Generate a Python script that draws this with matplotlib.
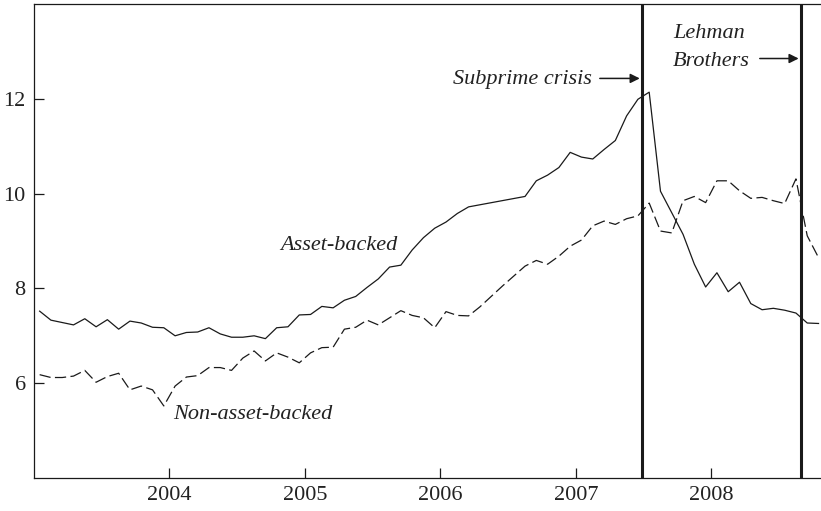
import numpy as np
import matplotlib
matplotlib.use("Agg")
import matplotlib.pyplot as plt

# month index counted from Jan 2003 (0 = Jan 2003)
asset_months = list(range(0, 39)) + list(range(43, 56)) + list(range(57, 70))
asset_backed = [7.52, 7.33, 7.28, 7.23, 7.36, 7.19, 7.34, 7.14, 7.31, 7.27,
                7.18, 7.17, 7.00, 7.07, 7.08, 7.17, 7.04, 6.97, 6.97, 7.00,
                6.94, 7.17, 7.19, 7.44, 7.45, 7.62, 7.59, 7.75, 7.83, 8.02,
                8.20, 8.45, 8.49, 8.81, 9.07, 9.27, 9.40, 9.58, 9.72,
                9.94, 10.27, 10.39, 10.55, 10.87, 10.77, 10.73, 10.93, 11.12,
                11.64, 11.99, 12.14, 10.05,
                9.14, 8.51, 8.03, 8.33, 7.93, 8.13, 7.68, 7.55, 7.58, 7.54,
                7.48, 7.27, 7.26]

non_asset_months = list(range(0, 70))
non_asset_backed = [6.18, 6.12, 6.12, 6.15, 6.27, 6.02, 6.14, 6.21, 5.86, 5.94,
                    5.86, 5.52, 5.94, 6.13, 6.16, 6.33, 6.33, 6.27, 6.53, 6.68,
                    6.47, 6.64, 6.55, 6.43, 6.64, 6.75, 6.76, 7.14, 7.18, 7.33,
                    7.23, 7.38, 7.53, 7.43, 7.38, 7.17, 7.51, 7.43, 7.42, 7.61,
                    7.83, 8.05, 8.26, 8.47, 8.59, 8.51, 8.68, 8.89, 9.02, 9.32,
                    9.42, 9.35, 9.47, 9.53, 9.80, 9.21, 9.17, 9.85, 9.94, 9.81,
                    10.27, 10.27, 10.06, 9.90, 9.92, 9.85, 9.79, 10.31, 9.11, 8.65]

year_ticks = [2004, 2005, 2006, 2007, 2008]
value_ticks = [6, 8, 10, 12]
subprime_date = 2007.487
lehman_date = 2008.66

plt.rcParams['font.family'] = ['Liberation Serif', 'DejaVu Serif']
ink = '#1a1a1a'

def to_year(m):
    return 2003 + (np.asarray(m) + 0.5) / 12.0

fig = plt.figure(figsize=(8.21, 5.11), dpi=100)
ax = fig.add_axes([34/821, 33/511, 787/821, 474/511])

ax.plot(to_year(asset_months), asset_backed, '-', color=ink, lw=0.9)
l2, = ax.plot(to_year(non_asset_months), non_asset_backed, '--', color=ink, lw=0.9)
l2.set_dashes((9, 3.5))

ax.axvline(subprime_date, color=ink, lw=2.2)
ax.axvline(lehman_date, color=ink, lw=2.2)

ax.set_xlim(2003.0, 2008.81)
ax.set_ylim(4, 14)
ax.set_xticks(year_ticks)
ax.set_xticklabels([str(y) for y in year_ticks])
ax.set_yticks(value_ticks)
ax.tick_params(direction='in', length=7, width=0.9, color=ink,
               labelsize=16, labelcolor='#222222', pad=6)
for s in ['left', 'bottom', 'top']:
    ax.spines[s].set_linewidth(0.9)
    ax.spines[s].set_color(ink)
ax.spines['right'].set_visible(False)

tkw = dict(fontsize=16, style='italic', color='#222222', va='center')
ax.text(2007.118, 12.40, 'Subprime crisis', ha='right', **tkw)
ax.annotate('', xy=(subprime_date - 0.015, 12.43), xytext=(2007.177, 12.43),
            arrowprops=dict(arrowstyle='-|>', color=ink, lw=1.1,
                            mutation_scale=14, shrinkA=0, shrinkB=0))
ax.text(2007.716, 13.38, 'Lehman', ha='left', **tkw)
ax.text(2007.716, 12.79, 'Brothers', ha='left', **tkw)
ax.annotate('', xy=(lehman_date - 0.015, 12.85), xytext=(2008.358, 12.85),
            arrowprops=dict(arrowstyle='-|>', color=ink, lw=1.1,
                            mutation_scale=14, shrinkA=0, shrinkB=0))
ax.text(2004.815, 8.91, 'Asset-backed', ha='left', **tkw)
ax.text(2004.026, 5.33, 'Non-asset-backed', ha='left', **tkw)

fig.savefig('out.png', dpi=100)
